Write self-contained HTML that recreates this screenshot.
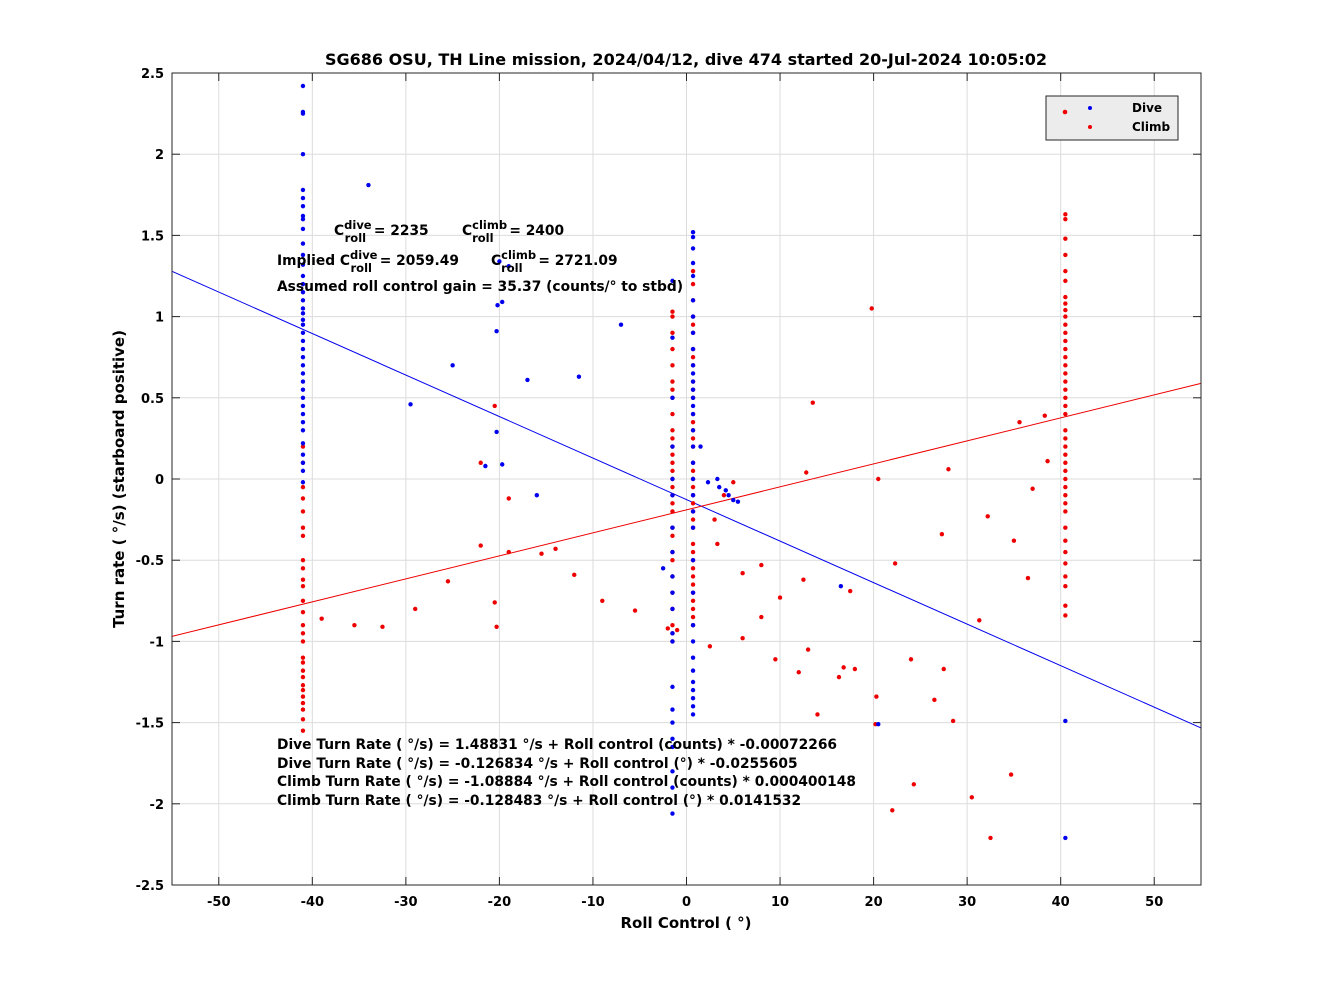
<!DOCTYPE html>
<html><head><meta charset="utf-8"><style>
body{margin:0;background:#fff}
svg text{font-family:"DejaVu Sans","Liberation Sans",sans-serif;font-weight:bold}
</style></head><body>
<svg id="chart" width="1328" height="996" xmlns="http://www.w3.org/2000/svg">
<rect width="1328" height="996" fill="#fff"/>
<g id="grid"></g>
<g id="lines"></g>
<g id="pts"></g>
<rect x="172" y="73" width="1029" height="812" fill="none" stroke="#262626" stroke-width="1"/>
<g id="ticks"></g>
<text x="686" y="65" text-anchor="middle" font-size="16">SG686 OSU, TH Line mission, 2024/04/12, dive 474 started 20-Jul-2024 10:05:02</text>
<text x="686" y="928" text-anchor="middle" font-size="15">Roll Control ( °)</text>
<text transform="translate(124,479) rotate(-90)" text-anchor="middle" font-size="15">Turn rate ( °/s) (starboard positive)</text>
<g font-size="13.8">
<text x="334" y="235">C<tspan dy="-6" font-size="11.5">dive</tspan><tspan dx="-27" dy="13" font-size="11.5">roll</tspan><tspan dy="-7" dx="3"> = 2235</tspan></text>
<text x="462" y="235">C<tspan dy="-6" font-size="11.5">climb</tspan><tspan dx="-35" dy="13" font-size="11.5">roll</tspan><tspan dy="-7" dx="11"> = 2400</tspan></text>
<text x="277" y="265">Implied C<tspan dy="-6" font-size="11.5">dive</tspan><tspan dx="-27" dy="13" font-size="11.5">roll</tspan><tspan dy="-7" dx="3"> = 2059.49</tspan></text>
<text x="491" y="265">C<tspan dy="-6" font-size="11.5">climb</tspan><tspan dx="-35" dy="13" font-size="11.5">roll</tspan><tspan dy="-7" dx="11"> = 2721.09</tspan></text>
<text x="277" y="291">Assumed roll control gain = 35.37 (counts/° to stbd)</text>
<text x="277" y="749">Dive Turn Rate ( °/s) = 1.48831 °/s + Roll control (counts) * -0.00072266</text>
<text x="277" y="768">Dive Turn Rate ( °/s) = -0.126834 °/s + Roll control (°) * -0.0255605</text>
<text x="277" y="786">Climb Turn Rate ( °/s) = -1.08884 °/s + Roll control (counts) * 0.000400148</text>
<text x="277" y="805">Climb Turn Rate ( °/s) = -0.128483 °/s + Roll control (°) * 0.0141532</text>
</g>
<g>
<rect x="1046" y="96" width="132" height="44" fill="#ececec" stroke="#262626"/>
<circle cx="1065" cy="112" r="2.3" fill="#e00"/>
<circle cx="1090" cy="108" r="2" fill="#0000ee"/>
<text x="1132" y="112" font-size="12">Dive</text>
<circle cx="1090" cy="127" r="2" fill="#e00"/>
<text x="1132" y="131" font-size="12">Climb</text>
</g>
</svg>
<script>
const xTicks=[-50,-40,-30,-20,-10,0,10,20,30,40,50];
const yTicks=[-2.5,-2,-1.5,-1,-0.5,0,0.5,1,1.5,2,2.5];
const diveFit=[-0.126834,-0.0255605];
const climbFit=[-0.19,0.01416];
const diveColX=[-41,-1.5,0.7];
const diveColY=[
[2.42,2.26,2.25,2.0,1.78,1.73,1.68,1.62,1.6,1.54,1.45,1.38,1.32,1.25,1.2,1.15,1.1,1.05,1.02,0.98,0.95,0.9,0.85,0.8,0.75,0.7,0.65,0.6,0.55,0.5,0.45,0.4,0.35,0.3,0.22,0.15,0.1,0.05,-0.02],
[1.22,0.87,0.5,0.2,0.0,-0.1,-0.3,-0.45,-0.6,-0.7,-0.8,-0.95,-1.0,-1.28,-1.42,-1.5,-1.6,-1.65,-1.8,-1.9,-2.06],
[1.52,1.49,1.42,1.33,1.25,1.1,1.0,0.9,0.8,0.7,0.65,0.6,0.55,0.5,0.45,0.4,0.3,0.2,0.1,0.0,-0.1,-0.2,-0.3,-0.5,-0.7,-0.9,-1.0,-1.1,-1.18,-1.25,-1.3,-1.35,-1.4,-1.45]];
const diveScatterX=[-34,-20,-19,-20.2,-19.7,-20.3,-7,-25,-17,-11.5,-29.5,-20.3,-21.5,-19.7,-16,-2.5,3.3,3.5,4.5,5,5.5,2.3,4.2,16.5,20.5,40.5,40.5,1.5];
const diveScatterY=[1.81,1.34,1.31,1.07,1.09,0.91,0.95,0.7,0.61,0.63,0.46,0.29,0.08,0.09,-0.1,-0.55,0,-0.05,-0.1,-0.13,-0.14,-0.02,-0.07,-0.66,-1.51,-1.49,-2.21,0.2];
const climbColX=[-41,-1.5,0.7,40.5];
const climbColY=[
[0.2,0.1,-0.05,-0.12,-0.2,-0.3,-0.35,-0.5,-0.55,-0.62,-0.66,-0.75,-0.82,-0.9,-0.95,-1.0,-1.1,-1.13,-1.18,-1.22,-1.27,-1.3,-1.34,-1.38,-1.42,-1.48,-1.55],
[1.03,1.0,0.9,0.8,0.7,0.6,0.55,0.5,0.4,0.3,0.25,0.2,0.15,0.1,0.05,0.0,-0.05,-0.1,-0.15,-0.2,-0.3,-0.35,-0.45,-0.5,-0.6,-0.7,-0.8,-0.9,-0.95,-1.0],
[1.28,1.2,1.1,1.0,0.95,0.9,0.8,0.75,0.7,0.6,0.55,0.5,0.4,0.35,0.3,0.25,0.2,0.1,0.05,0.0,-0.05,-0.1,-0.15,-0.2,-0.25,-0.3,-0.4,-0.45,-0.5,-0.55,-0.6,-0.65,-0.7,-0.75,-0.8,-0.85,-0.9],
[1.63,1.6,1.48,1.38,1.28,1.22,1.12,1.08,1.04,1.0,0.95,0.9,0.85,0.8,0.75,0.7,0.65,0.6,0.55,0.5,0.45,0.4,0.3,0.25,0.2,0.15,0.1,0.05,0.0,-0.05,-0.1,-0.15,-0.2,-0.3,-0.38,-0.45,-0.52,-0.6,-0.66,-0.78,-0.84]];
const climbScatterX=[-39,-35.5,-32.5,-29,-25.5,-22,-19,-15.5,-14,-12,-9,-5.5,-20.5,-20.3,-20.5,-22,-19,-2,-1,2.5,3.3,3,4,5,6,6,8,8,10,9.5,12,12.5,12.8,13.5,13,14,16.3,16.8,17.5,18,19.8,20.3,20.5,20.2,22.3,22,24,24.3,26.5,27.3,27.5,28,28.5,30.5,31.3,32.2,32.5,34.7,35,35.6,36.5,37,38.3,38.6];
const climbScatterY=[-0.86,-0.9,-0.91,-0.8,-0.63,-0.41,-0.45,-0.46,-0.43,-0.59,-0.75,-0.81,-0.76,-0.91,0.45,0.1,-0.12,-0.92,-0.93,-1.03,-0.4,-0.25,-0.1,-0.02,-0.58,-0.98,-0.85,-0.53,-0.73,-1.11,-1.19,-0.62,0.04,0.47,-1.05,-1.45,-1.22,-1.16,-0.69,-1.17,1.05,-1.34,0,-1.51,-0.52,-2.04,-1.11,-1.88,-1.36,-0.34,-1.17,0.06,-1.49,-1.96,-0.87,-0.23,-2.21,-1.82,-0.38,0.35,-0.61,-0.06,0.39,0.11];

const X0=172,X1=1201,Y0=73,Y1=885;
const sx=v=>X0+(v+55)/110*(X1-X0);
const sy=v=>Y1-(v+2.5)/5*(Y1-Y0);
const NS='http://www.w3.org/2000/svg';
function mk(tag,attrs,parent){const e=document.createElementNS(NS,tag);for(const k in attrs)e.setAttribute(k,attrs[k]);parent.appendChild(e);return e;}
const grid=document.getElementById('grid'),ticks=document.getElementById('ticks'),lines=document.getElementById('lines'),pts=document.getElementById('pts');
xTicks.forEach(t=>{const x=sx(t);
 const g=mk('line',{x1:x,x2:x,y1:Y0,y2:Y1,stroke:'#dcdcdc'},grid);
 
 
 mk('line',{x1:x,x2:x,y1:Y1,y2:Y1-8,stroke:'#262626'},ticks);
 mk('line',{x1:x,x2:x,y1:Y0,y2:Y0+8,stroke:'#262626'},ticks);
 const l=mk('text',{x:x,y:Y1+21,'text-anchor':'middle','font-size':13},ticks);l.textContent=t;
 
 
});
yTicks.forEach(t=>{const y=sy(t);
 const g=mk('line',{x1:X0,x2:X1,y1:y,y2:y,stroke:'#dcdcdc'},grid);
 
 
 mk('line',{x1:X0,x2:X0+8,y1:y,y2:y,stroke:'#262626'},ticks);
 mk('line',{x1:X1,x2:X1-8,y1:y,y2:y,stroke:'#262626'},ticks);
 const l=mk('text',{x:X0-8,y:y+5,'text-anchor':'end','font-size':13},ticks);l.textContent=t;
 
 
});
function fitLine(f,c,name){const l=mk('line',{x1:sx(-55),y1:sy(f[0]+f[1]*-55),x2:sx(55),y2:sy(f[0]+f[1]*55),stroke:c,'stroke-width':1},lines);
 
 }
fitLine(diveFit,'#0000ee','dive-fit-line');
fitLine(climbFit,'#e00','climb-fit-line');
function dot(x,y,c,name){const d=mk('circle',{cx:sx(x),cy:sy(y),r:2.2,fill:c},pts);
 
 }
climbColX.forEach((x,i)=>climbColY[i].forEach(y=>dot(x,y,'#e00','climb-point')));
climbScatterX.forEach((x,i)=>dot(x,climbScatterY[i],'#e00','climb-point'));
diveColX.forEach((x,i)=>diveColY[i].forEach(y=>dot(x,y,'#0000ee','dive-point')));
diveScatterX.forEach((x,i)=>dot(x,diveScatterY[i],'#0000ee','dive-point'));
</script>
</body></html>
